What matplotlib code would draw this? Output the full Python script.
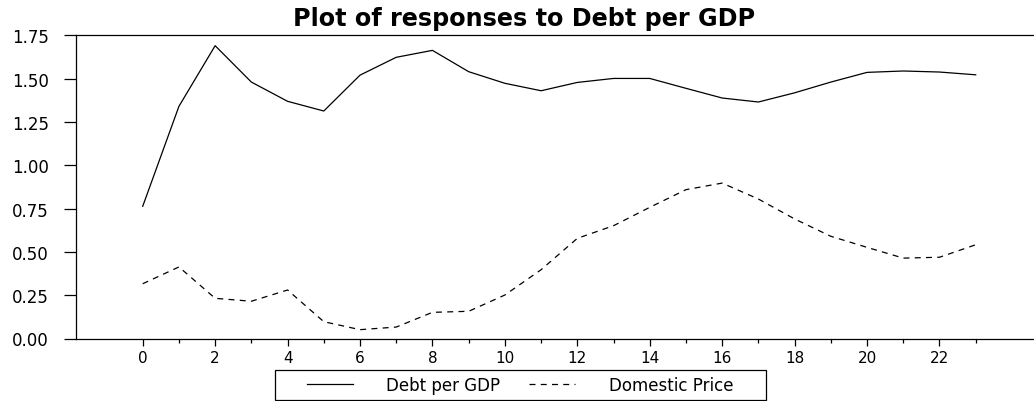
import numpy as np
import matplotlib
matplotlib.use("Agg")
import matplotlib.pyplot as plt
from matplotlib.patches import Rectangle
from matplotlib.ticker import FixedLocator, MultipleLocator, FormatStrFormatter

# ---- data ----
periods = list(range(24))
debt_per_gdp = [0.763, 1.340, 1.690, 1.480, 1.369, 1.313, 1.520, 1.623, 1.663, 1.540,
                1.473, 1.430, 1.478, 1.501, 1.501, 1.444, 1.388, 1.365, 1.418, 1.480,
                1.536, 1.544, 1.538, 1.522]
domestic_price = [0.316, 0.413, 0.232, 0.215, 0.280, 0.097, 0.051, 0.066, 0.151, 0.157,
                  0.251, 0.397, 0.578, 0.651, 0.757, 0.859, 0.897, 0.805, 0.690, 0.590,
                  0.526, 0.464, 0.469, 0.541]
series_labels = ["Debt per GDP", "Domestic Price"]
title = "Plot of responses to Debt per GDP"

W, H = 1034, 402
plt.rcParams['font.family'] = ['DejaVu Sans']
plt.rcParams['lines.scale_dashes'] = False
fig = plt.figure(figsize=(W / 100, H / 100), dpi=100)
ax = fig.add_axes([76 / W, 1 - 339.5 / H, 1 - 76 / W, (339.5 - 36.3) / H])

l1, = ax.plot(periods, debt_per_gdp, color='black', lw=0.9, label=series_labels[0])
l2, = ax.plot(periods, domestic_price, color='black', lw=0.9, dashes=(4.3, 3.8),
              label=series_labels[1])

ax.set_xlim(-1.842, 24.61)
ax.set_ylim(0, 1.75)
ax.xaxis.set_major_locator(FixedLocator(periods[::2]))
ax.xaxis.set_minor_locator(FixedLocator(periods[1::2]))
ax.yaxis.set_major_locator(MultipleLocator(0.25))
ax.yaxis.set_major_formatter(FormatStrFormatter('%.2f'))
ax.spines['right'].set_visible(False)
for s in ['left', 'top', 'bottom']:
    ax.spines[s].set_linewidth(0.9)
ax.tick_params(axis='x', which='major', direction='out', length=5, width=0.9,
               labelsize=11, pad=3)
ax.tick_params(axis='x', which='minor', direction='out', length=2.9, width=0.9)
ax.tick_params(axis='y', which='major', direction='out', length=8.6, width=0.9,
               labelsize=12, pad=11)

fig.text(0.5 * (289 + 760) / W, 1 - 19 / H, title, ha='center', va='center',
         fontsize=17.2, fontweight='bold')

# legend box
fig.patches.append(Rectangle((275 / W, 1 - 401 / H), (766 - 275) / W, 30 / H,
                             transform=fig.transFigure, fill=False,
                             edgecolor='black', lw=0.9))
leg = fig.legend(handles=[l1, l2], loc='center left', ncol=2,
                 bbox_to_anchor=(307 / W, 1 - 386 / H), frameon=False,
                 fontsize=12, handlelength=2.76, handletextpad=2.0,
                 columnspacing=1.74, borderpad=0, borderaxespad=0)

fig.savefig("out.png", dpi=100)
